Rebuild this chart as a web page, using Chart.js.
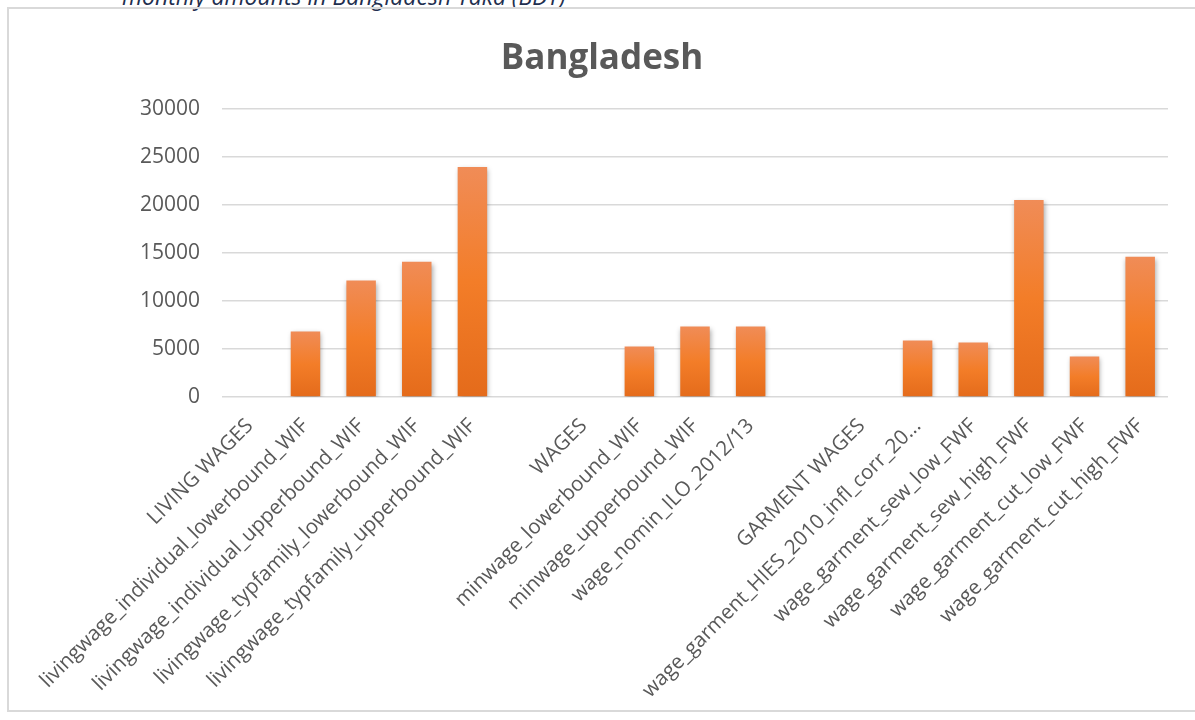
<!DOCTYPE html>
<html>
<head>
<meta charset="utf-8">
<script src="https://cdn.jsdelivr.net/npm/chart.js@4"></script>
<style>
  html, body { margin: 0; padding: 0; background: #fff; overflow: hidden; }
  body { width: 1195px; height: 720px; position: relative; }
  .subtitle {
    position: absolute; left: 122px; top: -15px;
    font: italic 23px "Open Sans", sans-serif; line-height: 22px;
    color: #1f2f4f; white-space: nowrap;
  }
  .frame {
    position: absolute; left: 7px; top: 7px; width: 1200px; height: 705px;
    border: 2px solid #d9d9d9; box-sizing: border-box;
  }
  #wageChart { position: absolute; left: 0; top: 0; }
</style>
</head>
<body>
<div class="subtitle">monthly amounts in Bangladesh Taka (BDT)</div>
<div class="frame"></div>
<canvas id="wageChart" width="1195" height="720"></canvas>
<script>
// categorias (las vacias separan los grupos)
const categories = [
  'LIVING WAGES',
  'livingwage_individual_lowerbound_WIF',
  'livingwage_individual_upperbound_WIF',
  'livingwage_typfamily_lowerbound_WIF',
  'livingwage_typfamily_upperbound_WIF',
  '',
  'WAGES',
  'minwage_lowerbound_WIF',
  'minwage_upperbound_WIF',
  'wage_nomin_ILO_2012/13',
  '',
  'GARMENT WAGES',
  'wage_garment_HIES_2010_infl_corr_20...',
  'wage_garment_sew_low_FWF',
  'wage_garment_sew_high_FWF',
  'wage_garment_cut_low_FWF',
  'wage_garment_cut_high_FWF'
];

// montos mensuales en BDT
const amounts = [null, 6830, 12130, 14100, 23970, null, null, 5260, 7340, 7340, null, null, 5880, 5670, 20510, 4220, 14600];

const yTicks = [0, 5000, 10000, 15000, 20000, 25000, 30000];

// degradado de cada barra (claro arriba, oscuro abajo)
function barGradient(context) {
    const chart = context.chart;
    const value = context.raw;
    if (!chart.chartArea || value == null) return '#f27d2a';
    const y = chart.scales.y;
    const top = y.getPixelForValue(value);
    const bottom = y.getPixelForValue(0);
    const g = chart.ctx.createLinearGradient(0, top, 0, bottom);
    g.addColorStop(0, '#f08c57');
    g.addColorStop(0.5, '#f37d28');
    g.addColorStop(1, '#e46b1b');
    return g;
}

// sombra suave alrededor de las barras
const barShadow = {
    id: 'barShadow',
    beforeDatasetsDraw(chart) {
        const ctx = chart.ctx;
        ctx.save();
        ctx.shadowColor = 'rgba(0, 0, 0, 0.35)';
        ctx.shadowBlur = 5;
        ctx.shadowOffsetX = 1;
        ctx.shadowOffsetY = 2;
    },
    afterDatasetsDraw(chart) {
        chart.ctx.restore();
    }
};

function initializeChart() {
    const ctx = document.getElementById('wageChart').getContext('2d');
    new Chart(ctx, {
        type: 'bar',
        data: {
            labels: categories,
            datasets: [{
                label: 'Bangladesh',
                data: amounts,
                backgroundColor: barGradient,
                borderWidth: 0,
                categoryPercentage: 1,
                barPercentage: 0.53
            }]
        },
        options: {
            responsive: false,
            animation: false,
            layout: { padding: { top: 0, right: 27, bottom: 7, left: 36 } },
            plugins: {
                legend: { display: false },
                tooltip: { enabled: false },
                title: {
                    display: true,
                    text: 'Bangladesh',
                    color: '#595959',
                    font: { family: 'Open Sans', size: 35, weight: 'bold' },
                    padding: { top: 38, bottom: 29 }
                }
            },
            scales: {
                x: {
                    grid: { display: false },
                    border: { display: false },
                    ticks: {
                        autoSkip: false,
                        minRotation: 45,
                        maxRotation: 45,
                        padding: 9,
                        color: '#595959',
                        font: { family: 'Open Sans', size: 20.5 }
                    },
                    afterFit(scale) { scale.height = 316; }
                },
                y: {
                    min: 0,
                    max: 30000,
                    afterBuildTicks(scale) {
                        scale.ticks = yTicks.map(v => ({ value: v }));
                    },
                    grid: { color: '#d9d9d9', lineWidth: 1.5, drawTicks: false },
                    border: { display: false },
                    ticks: {
                        padding: 22,
                        color: '#595959',
                        font: { family: 'Open Sans', size: 21 },
                        callback: value => String(value)
                    },
                    afterFit(scale) { scale.width = 186; }
                }
            }
        },
        plugins: [barShadow]
    });
}

document.addEventListener('DOMContentLoaded', initializeChart);
</script>
</body>
</html>
